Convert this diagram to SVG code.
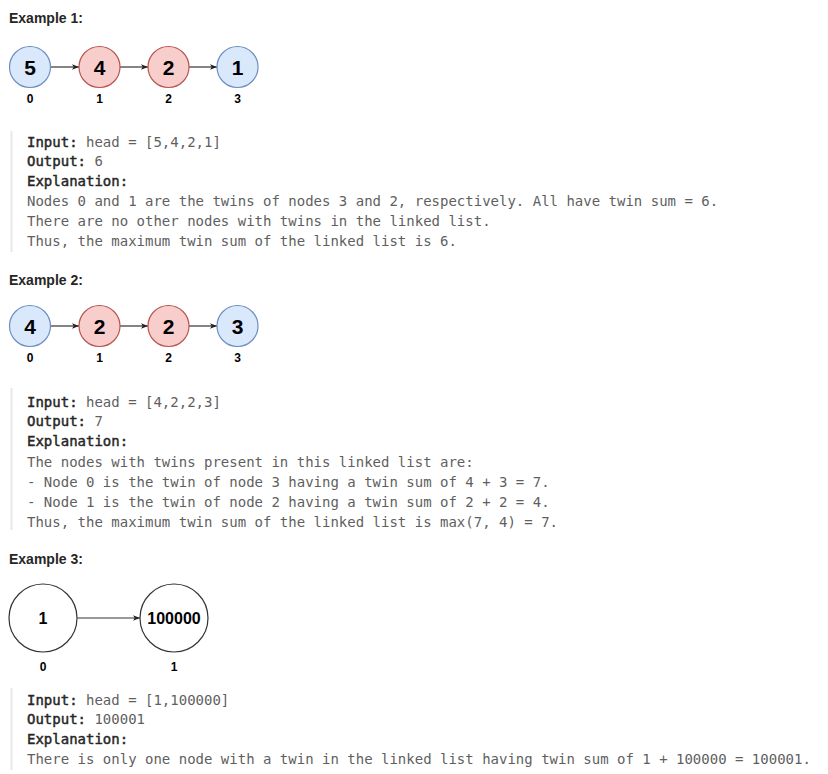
<svg xmlns="http://www.w3.org/2000/svg" width="828" height="774" viewBox="0 0 828 774">
<defs>
<marker id="ah" viewBox="0 0 10 10" refX="10" refY="5" markerWidth="7" markerHeight="7" markerUnits="userSpaceOnUse" orient="auto">
<path d="M0,1 L10,5 L0,9 L2.5,5 Z" fill="#222"/>
</marker>
<style>
.title{font-family:"Liberation Sans",Arial,sans-serif;font-weight:bold;font-size:14px;fill:#262626}
.blue{fill:#dae8fc;stroke:#6c8ebf;stroke-width:1.2}
.red{fill:#f8cecc;stroke:#b85450;stroke-width:1.2}
.white{fill:#ffffff;stroke:#333;stroke-width:1.2}
.num{font-family:"Liberation Sans",Arial,sans-serif;font-weight:bold;font-size:21px;fill:#000;text-anchor:middle}
.idx{font-family:"Liberation Sans",Arial,sans-serif;font-weight:bold;font-size:12px;fill:#000;text-anchor:middle}
.edge{stroke:#333;stroke-width:1.2;fill:none;marker-end:url(#ah)}
.code{font-family:"DejaVu Sans Mono","Liberation Mono",monospace;font-size:14px;fill:#5f5f5f}
.code .b{fill:#262626;stroke:#262626;stroke-width:0.45}
.bar{fill:#e8e8e8}
</style>
</defs>
<rect width="828" height="774" fill="#ffffff"/>

<text class="title" x="9" y="23">Example 1:</text>
<g id="connectors1">
<line class="edge" x1="50.5" y1="67" x2="79" y2="67"/>
<line class="edge" x1="120" y1="67" x2="148" y2="67"/>
<line class="edge" x1="189" y1="67" x2="217" y2="67"/>
</g>
<g id="e1n0"><circle class="blue" cx="30" cy="67" r="20.5"/><text class="num" x="30" y="74.5">5</text><text class="idx" x="30" y="103">0</text></g>
<g id="e1n1"><circle class="red" cx="99.5" cy="67" r="20.5"/><text class="num" x="99.5" y="74.5">4</text><text class="idx" x="99.5" y="103">1</text></g>
<g id="e1n2"><circle class="red" cx="168.5" cy="67" r="20.5"/><text class="num" x="168.5" y="74.5">2</text><text class="idx" x="168.5" y="103">2</text></g>
<g id="e1n3"><circle class="blue" cx="237.5" cy="67" r="20.5"/><text class="num" x="237.5" y="74.5">1</text><text class="idx" x="237.5" y="103">3</text></g>

<rect class="bar" x="10.5" y="131" width="2" height="121"/>
<g class="code">
<text x="27" y="147"><tspan class="b">Input:</tspan> head = [5,4,2,1]</text>
<text x="27" y="166"><tspan class="b">Output:</tspan> 6</text>
<text x="27" y="186"><tspan class="b">Explanation:</tspan></text>
<text x="27" y="206">Nodes 0 and 1 are the twins of nodes 3 and 2, respectively. All have twin sum = 6.</text>
<text x="27" y="226">There are no other nodes with twins in the linked list.</text>
<text x="27" y="246">Thus, the maximum twin sum of the linked list is 6.</text>
</g>

<text class="title" x="9" y="285">Example 2:</text>
<g id="connectors2">
<line class="edge" x1="50.5" y1="326" x2="79" y2="326"/>
<line class="edge" x1="120" y1="326" x2="148" y2="326"/>
<line class="edge" x1="189" y1="326" x2="217" y2="326"/>
</g>
<g id="e2n0"><circle class="blue" cx="30" cy="326" r="20.5"/><text class="num" x="30" y="333.5">4</text><text class="idx" x="30" y="362">0</text></g>
<g id="e2n1"><circle class="red" cx="99.5" cy="326" r="20.5"/><text class="num" x="99.5" y="333.5">2</text><text class="idx" x="99.5" y="362">1</text></g>
<g id="e2n2"><circle class="red" cx="168.5" cy="326" r="20.5"/><text class="num" x="168.5" y="333.5">2</text><text class="idx" x="168.5" y="362">2</text></g>
<g id="e2n3"><circle class="blue" cx="237.5" cy="326" r="20.5"/><text class="num" x="237.5" y="333.5">3</text><text class="idx" x="237.5" y="362">3</text></g>

<rect class="bar" x="10.5" y="388" width="2" height="142"/>
<g class="code">
<text x="27" y="407"><tspan class="b">Input:</tspan> head = [4,2,2,3]</text>
<text x="27" y="426"><tspan class="b">Output:</tspan> 7</text>
<text x="27" y="446"><tspan class="b">Explanation:</tspan></text>
<text x="27" y="467">The nodes with twins present in this linked list are:</text>
<text x="27" y="487">- Node 0 is the twin of node 3 having a twin sum of 4 + 3 = 7.</text>
<text x="27" y="507">- Node 1 is the twin of node 2 having a twin sum of 2 + 2 = 4.</text>
<text x="27" y="527">Thus, the maximum twin sum of the linked list is max(7, 4) = 7.</text>
</g>

<text class="title" x="9" y="564">Example 3:</text>
<g id="connectors3">
<line class="edge" x1="77.5" y1="618" x2="140" y2="618"/>
</g>
<g id="e3n0"><circle class="white" cx="43" cy="618" r="34"/><text class="num" x="43" y="624" style="font-size:16px">1</text><text class="idx" x="43" y="671">0</text></g>
<g id="e3n1"><circle class="white" cx="174" cy="618" r="34"/><text class="num" x="174" y="624" style="font-size:16px">100000</text><text class="idx" x="174" y="671">1</text></g>

<rect class="bar" x="10.5" y="688" width="2" height="82"/>
<g class="code">
<text x="27" y="705"><tspan class="b">Input:</tspan> head = [1,100000]</text>
<text x="27" y="724"><tspan class="b">Output:</tspan> 100001</text>
<text x="27" y="744"><tspan class="b">Explanation:</tspan></text>
<text x="27" y="764">There is only one node with a twin in the linked list having twin sum of 1 + 100000 = 100001.</text>
</g>
</svg>
